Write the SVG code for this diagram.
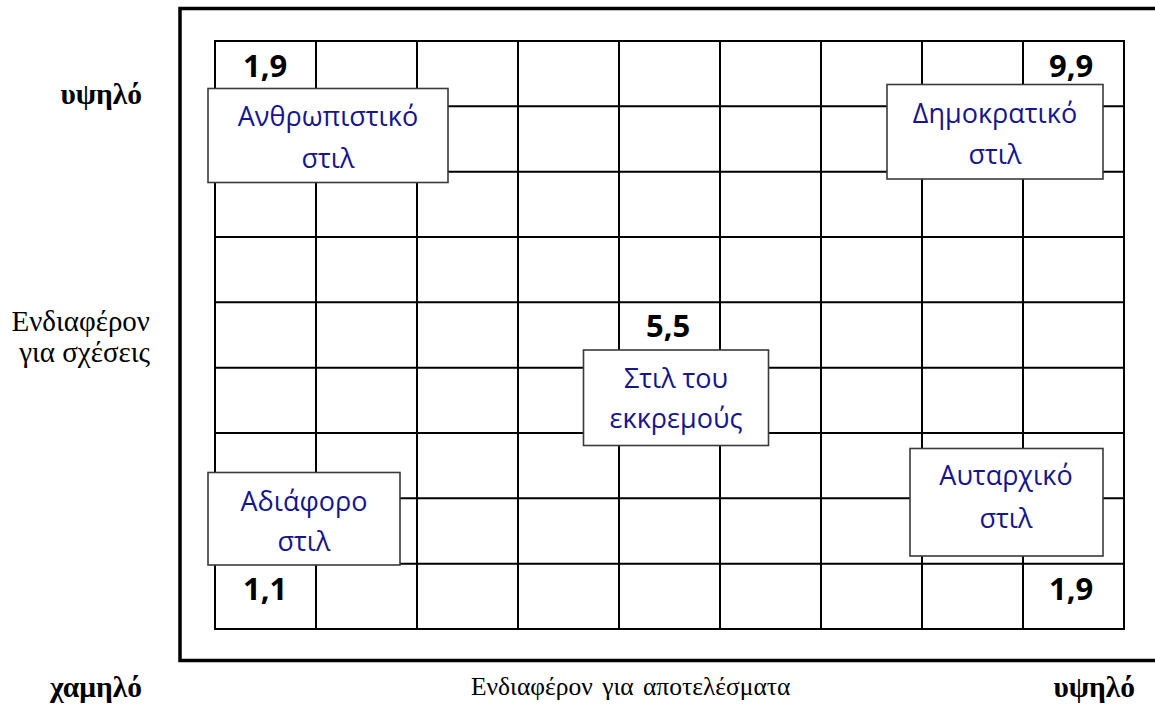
<svg xmlns="http://www.w3.org/2000/svg" width="1155" height="709" viewBox="0 0 1155 709">
<style>
.frame{fill:none;stroke:#000;stroke-width:3.5}
.grid{stroke:#000;stroke-width:2;fill:none}
.box{fill:#fff;stroke:#3a3a3a;stroke-width:1.6}
.bt{font-family:"Open Sans","Noto Sans",sans-serif;font-size:27px;fill:#16168a;text-anchor:middle}
.num{font-family:"Open Sans","Noto Sans",sans-serif;font-size:31px;font-weight:bold;fill:#000}
.ax{font-family:"Liberation Serif","DejaVu Serif",serif;font-size:29px;fill:#000}
.axs{font-family:"Liberation Serif","DejaVu Serif",serif;font-size:25.5px;fill:#000;word-spacing:3px}
.axb{font-family:"Liberation Serif","DejaVu Serif",serif;font-size:29.5px;font-weight:bold;fill:#000}
</style>
<rect width="1155" height="709" fill="#fff"/>
<rect class="frame" x="180" y="8.5" width="1010" height="652"/>
<g id="grid" class="grid">
<rect x="215" y="41" width="909" height="588"/>
<path d="M316 41V629M417 41V629M518 41V629M619 41V629M720 41V629M821 41V629M922 41V629M1023 41V629"/>
<path d="M215 106.3H1124M215 171.7H1124M215 237H1124M215 302.3H1124M215 367.7H1124M215 433H1124M215 498.3H1124M215 563.7H1124"/>
</g>
<g id="numbers">
<text class="num" x="243" y="77">1,9</text>
<text class="num" x="1049" y="77">9,9</text>
<text class="num" x="646" y="337">5,5</text>
<text class="num" x="243" y="600">1,1</text>
<text class="num" x="1049" y="600">1,9</text>
</g>
<g id="connectors"></g>
<g id="node-anthropistiko">
<rect class="box" x="208" y="88.5" width="240" height="94"/>
<text class="bt" x="328" y="126">Ανθρωπιστικό</text>
<text class="bt" x="328" y="168">στιλ</text>
</g>
<g id="node-dimokratiko">
<rect class="box" x="887" y="84.5" width="216" height="94.5"/>
<text class="bt" x="995" y="123">Δημοκρατικό</text>
<text class="bt" x="995" y="164">στιλ</text>
</g>
<g id="node-ekkremous">
<rect class="box" x="583.5" y="350" width="185" height="95.5"/>
<text class="bt" x="676" y="388">Στιλ του</text>
<text class="bt" x="676" y="428">εκκρεμούς</text>
</g>
<g id="node-adiaforo">
<rect class="box" x="208" y="472.5" width="192" height="92.5"/>
<text class="bt" x="304" y="511">Αδιάφορο</text>
<text class="bt" x="304" y="551">στιλ</text>
</g>
<g id="node-autarxiko">
<rect class="box" x="910" y="448.5" width="193" height="107.5"/>
<text class="bt" x="1006" y="485">Αυταρχικό</text>
<text class="bt" x="1006" y="528">στιλ</text>
</g>
<g id="axis-labels">
<text class="axb" x="142" y="104" text-anchor="end">υψηλό</text>
<text class="ax" x="150" y="331" text-anchor="end">Ενδιαφέρον</text>
<text class="ax" x="150" y="362" text-anchor="end">για σχέσεις</text>
<text class="axb" x="142" y="697" text-anchor="end">χαμηλό</text>
<text class="axs" x="471" y="695">Ενδιαφέρον για αποτελέσματα</text>
<text class="axb" x="1135" y="697" text-anchor="end">υψηλό</text>
</g>
</svg>
